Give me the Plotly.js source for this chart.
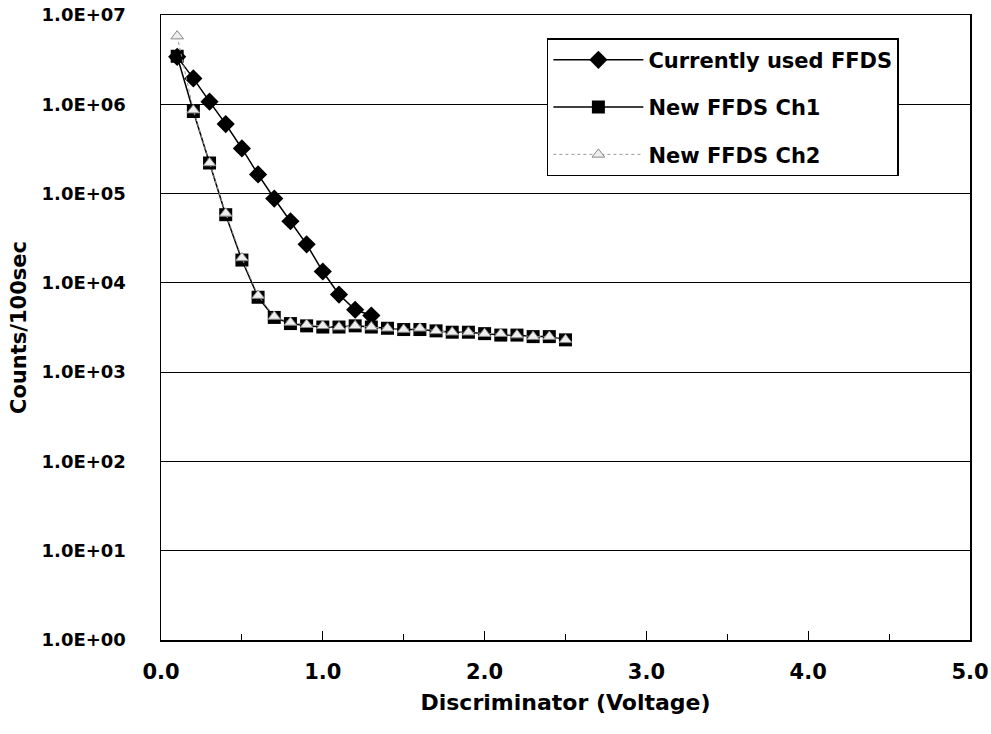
<!DOCTYPE html>
<html>
<head>
<meta charset="utf-8">
<script src="https://cdn.plot.ly/plotly-3.0.1.min.js"></script>
<style>html,body{margin:0;padding:0;background:#fff;}#chart{width:991px;height:734px;}</style>
</head>
<body>
<div id="chart"></div>
<script>
// Discriminator voltage (V)
const voltCurrent = [0.1, 0.2, 0.3, 0.4, 0.5, 0.6, 0.7, 0.8, 0.9, 1.0, 1.1, 1.2, 1.3];
const countsCurrent = [3.4e6, 1.95e6, 1.07e6, 6.0e5, 3.2e5, 1.64e5, 8.8e4, 4.9e4, 2.7e4, 1.34e4, 7.4e3, 5.0e3, 4.3e3];

const voltNew = [0.1, 0.2, 0.3, 0.4, 0.5, 0.6, 0.7, 0.8, 0.9, 1.0, 1.1, 1.2, 1.3, 1.4, 1.5, 1.6, 1.7, 1.8, 1.9, 2.0, 2.1, 2.2, 2.3, 2.4, 2.5];
const countsCh1 = [3.45e6, 8.3e5, 2.2e5, 5.8e4, 1.8e4, 6.9e3, 4.1e3, 3.5e3, 3.3e3, 3.2e3, 3.2e3, 3.3e3, 3.2e3, 3.1e3, 3.0e3, 3.0e3, 2.9e3, 2.8e3, 2.8e3, 2.7e3, 2.6e3, 2.6e3, 2.5e3, 2.5e3, 2.3e3];
const countsCh2 = [5.8e6, 8.6e5, 2.2e5, 6.0e4, 1.9e4, 7.2e3, 4.2e3, 3.6e3, 3.4e3, 3.3e3, 3.2e3, 3.3e3, 3.2e3, 3.1e3, 3.0e3, 3.1e3, 2.9e3, 2.8e3, 2.8e3, 2.7e3, 2.7e3, 2.6e3, 2.5e3, 2.5e3, 2.3e3];

const seriesNames = ["Currently used FFDS", "New FFDS Ch1", "New FFDS Ch2"];

const yTickVals = [1, 10, 100, 1000, 1e4, 1e5, 1e6, 1e7];
const yTickText = ["1.0E+00", "1.0E+01", "1.0E+02", "1.0E+03", "1.0E+04", "1.0E+05", "1.0E+06", "1.0E+07"];
const xTickVals = [0, 1, 2, 3, 4, 5];
const xTickText = ["0.0", "1.0", "2.0", "3.0", "4.0", "5.0"];

const FONT = "DejaVu Sans, Arial, sans-serif";

const traces = [
  {
    x: voltCurrent, y: countsCurrent, name: seriesNames[0], type: "scatter", mode: "lines+markers",
    legendgroup: "a",
    line: {color: "#000", width: 1.5},
    marker: {symbol: "diamond", size: 14, color: "#000"}
  },
  {
    x: voltNew, y: countsCh1, name: seriesNames[1], type: "scatter", mode: "lines+markers",
    legendgroup: "b",
    line: {color: "#000", width: 1.5},
    marker: {symbol: "square", size: 13, color: "#000"}
  },
  {
    x: voltNew, y: countsCh2, name: seriesNames[2], type: "scatter", mode: "lines+markers",
    legendgroup: "c",
    line: {color: "#999", width: 1, dash: "dot"},
    marker: {symbol: "triangle-up", size: 11, color: "#eeeeee", line: {color: "#888", width: 1}}
  }
];

const layout = {
  width: 991, height: 734,
  margin: {l: 161, r: 21, t: 15, b: 94},
  paper_bgcolor: "#fff", plot_bgcolor: "#fff",
  font: {family: FONT, color: "#000", size: 18},
  showlegend: true,
  legend: {
    x: 0.477, y: 0.963, xanchor: "left", yanchor: "top",
    bgcolor: "#fff", bordercolor: "#000", borderwidth: 1.5,
    font: {family: FONT, size: 21, weight: "bold", color: "#000"},
    traceorder: "grouped", tracegroupgap: 17, itemwidth: 90
  },
  xaxis: {
    range: [0, 5], tickvals: xTickVals, ticktext: xTickText,
    ticks: "inside", ticklen: 9, tickwidth: 1, tickcolor: "#000",
    minor: {dtick: 0.5, ticks: "inside", ticklen: 6, tickcolor: "#000", showgrid: false},
    showgrid: false, zeroline: false,
    showline: true, linecolor: "#000", linewidth: 1.5, mirror: true,
    tickfont: {family: FONT, size: 21, weight: "bold"},
    ticklabelstandoff: 12,
    title: {text: "Discriminator (Voltage)", font: {family: FONT, size: 22, weight: "bold"}, standoff: 12}
  },
  yaxis: {
    type: "log", range: [0, 7], tickvals: yTickVals, ticktext: yTickText,
    ticks: "", showgrid: true, gridcolor: "#000", gridwidth: 1,
    zeroline: false, showline: true, linecolor: "#000", linewidth: 1.5, mirror: true,
    tickfont: {family: FONT, size: 18, weight: "bold"},
    ticklabelstandoff: 30,
    title: {text: "Counts/100sec", font: {family: FONT, size: 21, weight: "bold"}, standoff: 9}
  }
};

Plotly.newPlot("chart", traces, layout, {displayModeBar: false, staticPlot: true});
</script>
</body>
</html>
